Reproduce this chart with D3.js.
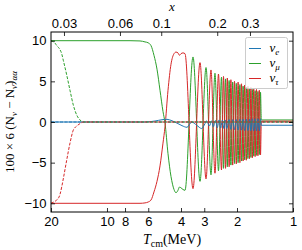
<!DOCTYPE html>
<html>
<head>
<meta charset="utf-8">
<script src="https://cdn.jsdelivr.net/npm/d3@7"></script>
<style>
  body { margin: 0; background: #fff; }
  svg { display: block; font-family: "Liberation Serif", "DejaVu Serif", serif; }
  .tick line { stroke: #000; stroke-width: 0.8; }
  .tick text { font-size: 13px; fill: #000; }
</style>
</head>
<body>
<div id="chart"></div>
<script>
// temperature ticks (MeV) and top axis ticks (x = m_e / T)
var tTicks = [20, 10, 8, 6, 4, 3, 2, 1];
var xTicks = [0.03, 0.06, 0.1, 0.2, 0.3];
var yTicks = [-10, -5, 0, 5, 10];
var me = 0.511;

// solid nu_mu / nu_tau before the oscillations
var smoothT   = [20, 7.52, 6.645, 6.246, 6.020, 5.800, 5.589, 5.385, 5.188, 5.000, 4.877, 4.699, 4.528, 4.362, 4.256, 4.153, 4.076, 4.001, 3.903];
var muSmooth  = [10, 10, 9.97, 9.85, 9.75, 9.4, 8.2, 6.5, 3.9, 1.3, -0.1, -3.9, -6.7, -8.3, -8.7, -8.4, -8.0, -8.1, -8.3];
var tauSmooth = [-10, -10, -10, -9.95, -9.85, -9.6, -8.6, -7.3, -5.4, -2.6, -0.6, 3.9, 7.1, 8.4, 8.6, 8.5, 8.2, 8.4, 8.5];

// turning points of the oscillations
var oscT   = [3.807, 3.448, 3.162, 2.935, 2.760, 2.627, 2.515, 2.424, 2.364, 2.306, 2.255, 2.205, 2.157, 2.110, 2.063, 2.018,
              1.973, 1.930, 1.892, 1.855, 1.818, 1.782, 1.747, 1.713, 1.684, 1.655, 1.626, 1.598, 1.571, 1.544, 1.518, 1.495];
var muOsc  = [-8.4, 8.0, -7.3, 6.7, -6.5, 6.0, -6.0, 5.5, -5.7, 5.3, -5.5, 5.1, -5.3, 4.9, -5.1, 4.75,
              -5.0, 4.6, -4.8, 4.4, -4.65, 4.3, -4.5, 4.1, -4.35, 4.0, -4.2, 3.85, -4.1, 3.75, -4.0, 3.65];
var tauOsc = [8.4, -8.2, 7.3, -7.0, 6.4, -6.3, 5.9, -5.9, 5.6, -5.7, 5.4, -5.5, 5.2, -5.3, 5.0, -5.15,
              4.9, -5.0, 4.7, -4.8, 4.55, -4.7, 4.4, -4.5, 4.25, -4.4, 4.1, -4.25, 4.0, -4.15, 3.9, -4.05];

// after the oscillations
var tailT   = [1.48, 1];
var muTail  = [0.25, 0.25];
var tauTail = [0.1, 0.1];

// solid nu_e
var eT = [20, 6.246, 5.52, 5.062, 4.758, 4.472, 4.153, 3.952, 3.714, 3.504, 3.294, 3.096, 2.972, 2.910, 2.818, 2.735,
          2.682, 2.610, 2.552, 2.499, 2.447, 2.399, 2.352, 2.312, 2.272,
          2.205, 2.157, 2.110, 2.063, 2.018, 1.973, 1.930, 1.892, 1.855, 1.818, 1.782, 1.747, 1.713, 1.684, 1.655,
          1.626, 1.598, 1.571, 1.544, 1.518, 1.495, 1.48, 1];
var eVal = [0, 0, 0.12, 0.28, 0.33, 0.15, -0.2, -0.45, -0.65, 0, -0.4, -0.8, -0.2, 0.15, -0.5, 0.15,
            -0.6, 0.2, -0.7, 0.25, -0.75, 0.25, -0.8, 0.25, -0.8,
            0.3, -0.9, 0.3, -0.95, 0.3, -1.0, 0.35, -1.0, 0.35, -1.05, 0.35, -1.05, 0.35, -1.1, 0.4,
            -1.1, 0.4, -1.1, 0.4, -1.1, 0.4, -0.4, -0.4];

// dashed curves
var dashT   = [20, 19.03, 18.63, 17.89, 17.52, 17.18, 16.47, 15.81, 15.18, 14.55, 13.97, 13.41, 12.34, 1];
var muDash  = [10, 9.7, 9.4, 8.9, 8.4, 7.6, 5.8, 3.9, 2.1, 0.86, 0.25, 0, 0, 0];
var tauDash = [-10, -9.75, -9.6, -8.9, -8.0, -7.0, -4.7, -2.6, -1.0, -0.5, -0.2, 0, 0, 0];
var eDash   = [0, 0, 0, 0, 0, 0, 0, 0, 0, 0, 0, 0, 0, 0];

var colors = {e: "#1f77b4", mu: "#2ca02c", tau: "#d62728"};

var width = 302, height = 250;
var margin = {top: 32, right: 9, bottom: 38, left: 51};
var innerW = width - margin.left - margin.right,
    innerH = height - margin.top - margin.bottom;

var x = d3.scaleLog().domain([20, 1]).range([0, innerW]);
var xTop = d3.scaleLog().domain([me / 20, me / 1]).range([0, innerW]);
var y = d3.scaleLinear().domain([-11.07, 11.07]).range([innerH, 0]);

var svg = d3.select("#chart").append("svg")
    .attr("width", width)
    .attr("height", height);

var g = svg.append("g")
    .attr("transform", "translate(" + margin.left + "," + margin.top + ")");

g.append("clipPath").attr("id", "clip")
  .append("rect").attr("width", innerW).attr("height", innerH);

function pairs(ts, vs) { return ts.map(function(t, i) { return [t, vs[i]]; }); }

var line = d3.line()
    .x(function(d) { return x(d[0]); })
    .y(function(d) { return y(d[1]); })
    .curve(d3.curveMonotoneX);

var plot = g.append("g").attr("clip-path", "url(#clip)");

var muSolid  = pairs(smoothT, muSmooth).concat(pairs(oscT, muOsc), pairs(tailT, muTail));
var tauSolid = pairs(smoothT, tauSmooth).concat(pairs(oscT, tauOsc), pairs(tailT, tauTail));
var eSolid   = pairs(eT, eVal);

var series = [
  {data: muSolid, color: colors.mu, dash: null},
  {data: tauSolid, color: colors.tau, dash: null},
  {data: eSolid, color: colors.e, dash: null},
  {data: pairs(dashT, eDash), color: colors.e, dash: "3,1.5"},
  {data: pairs(dashT, muDash), color: colors.mu, dash: "3,1.5"},
  {data: pairs(dashT, tauDash), color: colors.tau, dash: "3,1.5"}
];

plot.selectAll(".series")
    .data(series)
  .enter().append("path")
    .attr("class", "series")
    .attr("d", function(d) { return line(d.data); })
    .attr("fill", "none")
    .attr("stroke", function(d) { return d.color; })
    .attr("stroke-width", 1)
    .attr("stroke-dasharray", function(d) { return d.dash; });

// axes, ticks inward
var bottomAxis = d3.axisBottom(x).tickValues(tTicks).tickFormat(d3.format("d"))
    .tickSizeInner(-4).tickSizeOuter(0).tickPadding(5);
var topAxis = d3.axisTop(xTop).tickValues(xTicks).tickFormat(function(d) { return String(d); })
    .tickSizeInner(-4).tickSizeOuter(0).tickPadding(4);
var leftAxis = d3.axisLeft(y).tickValues(yTicks).tickFormat(d3.format("d"))
    .tickSizeInner(-4).tickSizeOuter(0).tickPadding(4.5);
var rightAxis = d3.axisRight(y).tickValues(yTicks).tickFormat("")
    .tickSizeInner(-4).tickSizeOuter(0);

g.append("g").attr("transform", "translate(0," + innerH + ")").call(bottomAxis);
g.append("g").call(topAxis);
g.append("g").call(leftAxis);
g.append("g").attr("transform", "translate(" + innerW + ",0)").call(rightAxis);
g.selectAll(".domain").remove();
g.selectAll(".tick text").attr("font-family", null);

g.append("rect")
    .attr("width", innerW)
    .attr("height", innerH)
    .attr("fill", "none")
    .attr("stroke", "#000")
    .attr("stroke-width", 1);

// axis titles
svg.append("text")
    .attr("x", margin.left + innerW / 2)
    .attr("y", 10.5)
    .attr("text-anchor", "middle")
    .style("font-size", "13px")
    .style("font-style", "italic")
    .text("x");

var xl = svg.append("text")
    .attr("x", margin.left + innerW / 2)
    .attr("y", 244)
    .attr("text-anchor", "middle")
    .style("font-size", "14px");
xl.append("tspan").style("font-style", "italic").text("T");
xl.append("tspan").attr("dy", 3).style("font-size", "10px").text("cm");
xl.append("tspan").attr("dy", -3).text("(MeV)");

var yl = svg.append("text")
    .attr("transform", "translate(14," + (margin.top + innerH / 2) + ") rotate(-90)")
    .attr("text-anchor", "middle")
    .style("font-size", "13px");
yl.append("tspan").text("100 × 6 (N");
yl.append("tspan").attr("dy", 3).style("font-size", "9px").style("font-style", "italic").text("ν");
yl.append("tspan").attr("dy", -3).text(" − N");
yl.append("tspan").attr("dy", 3).style("font-size", "9px").style("font-style", "italic").text("ν̄");
yl.append("tspan").attr("dy", -3).text(")");
yl.append("tspan").attr("dy", 3).style("font-size", "9px").style("font-style", "italic").text("αα");

// legend
var legendItems = [
  {sub: "e", color: colors.e},
  {sub: "μ", color: colors.mu},
  {sub: "τ", color: colors.tau}
];

var legend = svg.append("g").attr("transform", "translate(245.5,37.5)");
legend.append("rect")
    .attr("width", 42)
    .attr("height", 51)
    .attr("rx", 2)
    .attr("fill", "#fff")
    .attr("fill-opacity", 0.8)
    .attr("stroke", "#ccc")
    .attr("stroke-width", 1);

var item = legend.selectAll(".legend")
    .data(legendItems)
  .enter().append("g")
    .attr("class", "legend")
    .attr("transform", function(d, i) { return "translate(0," + (11 + i * 15) + ")"; });

item.append("line")
    .attr("x1", 3.5).attr("x2", 15.5)
    .attr("stroke", function(d) { return d.color; })
    .attr("stroke-width", 1);

var lt = item.append("text")
    .attr("x", 24)
    .attr("dy", "0.3em")
    .style("font-size", "13px")
    .style("font-style", "italic");
lt.append("tspan").text("ν");
lt.append("tspan").attr("dy", 3).style("font-size", "9px").text(function(d) { return d.sub; });
</script>
</body>
</html>
